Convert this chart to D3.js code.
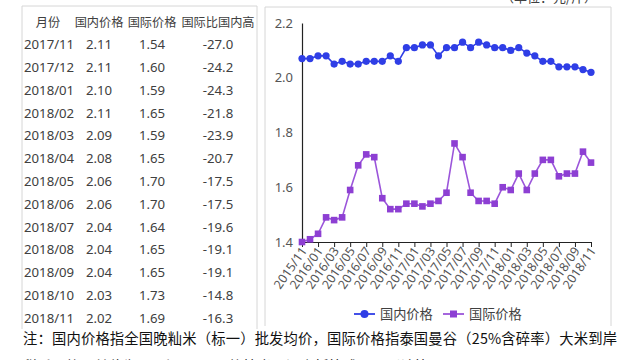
<!DOCTYPE html>
<html><head><meta charset="utf-8">
<script src="https://cdn.jsdelivr.net/npm/d3@7"></script>
<style>
html,body{margin:0;padding:0;background:#fff;}
svg{display:block;font-family:"Noto Sans CJK SC","Noto Sans",sans-serif;}
</style></head>
<body>
<svg id="c" width="640" height="360"></svg>
<script>
// ---- data ----
const months = ["2015/11","2015/12","2016/01","2016/02","2016/03","2016/04","2016/05","2016/06","2016/07","2016/08","2016/09","2016/10","2016/11","2016/12","2017/01","2017/02","2017/03","2017/04","2017/05","2017/06","2017/07","2017/08","2017/09","2017/10","2017/11","2017/12","2018/01","2018/02","2018/03","2018/04","2018/05","2018/06","2018/07","2018/08","2018/09","2018/10","2018/11"];
const domestic = [2.07,2.07,2.08,2.08,2.05,2.06,2.05,2.05,2.06,2.06,2.06,2.08,2.06,2.11,2.11,2.12,2.12,2.08,2.11,2.11,2.13,2.11,2.13,2.12,2.11,2.11,2.10,2.11,2.09,2.08,2.06,2.06,2.04,2.04,2.04,2.03,2.02];
const international = [1.40,1.41,1.43,1.49,1.48,1.49,1.59,1.68,1.72,1.71,1.56,1.52,1.52,1.54,1.54,1.53,1.54,1.55,1.58,1.76,1.71,1.58,1.55,1.55,1.54,1.60,1.59,1.65,1.59,1.65,1.70,1.70,1.64,1.65,1.65,1.73,1.69];
const xTickLabels = ["2015/11","2016/01","2016/03","2016/05","2016/07","2016/09","2016/11","2017/01","2017/03","2017/05","2017/07","2017/09","2017/11","2018/01","2018/03","2018/05","2018/07","2018/09","2018/11"];
const yTicks = [1.4,1.6,1.8,2.0,2.2];
const seriesNames = ["国内价格","国际价格"];

const tableHeader = ["月份","国内价格","国际价格","国际比国内高"];
const tableMonths = ["2017/11","2017/12","2018/01","2018/02","2018/03","2018/04","2018/05","2018/06","2018/07","2018/08","2018/09","2018/10","2018/11"];
const tableDomestic = ["2.11","2.11","2.10","2.11","2.09","2.08","2.06","2.06","2.04","2.04","2.04","2.03","2.02"];
const tableIntl = ["1.54","1.60","1.59","1.65","1.59","1.65","1.70","1.70","1.64","1.65","1.65","1.73","1.69"];
const tableDiff = ["-27.0","-24.2","-24.3","-21.8","-23.9","-20.7","-17.5","-17.5","-19.6","-19.1","-19.1","-14.8","-16.3"];

const noteLine1 = "注：国内价格指全国晚籼米（标一）批发均价，国际价格指泰国曼谷（25%含碎率）大米到岸";
const noteLine2 = "税后价格，单位为元/斤，国际价格按当月汇率折算成人民币计算。";
const unitText = "（单位：元/斤）";

// ---- drawing ----
const svg = d3.select("#c");
const blue = "#2f3ee6", purple = "#9b55da", purpleM = "#8d3fd3";
const txt = "#404040";

// frames
svg.append("path").attr("d","M22,329V6H257V329").attr("fill","none").attr("stroke","#d6d6d6");
svg.append("path").attr("d","M265,326V7H611V326").attr("fill","none").attr("stroke","#d6d6d6");

svg.append("text").attr("x",597).attr("y",2).attr("text-anchor","end")
  .attr("font-size",13).attr("fill",txt).text(unitText);

// table
const colX = [24, 99, 152, 218];
const hdr = svg.append("g").attr("font-size",12.2).attr("fill",txt);
tableHeader.forEach((h,i)=>{
  hdr.append("text").attr("x", i===0?48:colX[i]).attr("y",26.5)
    .attr("text-anchor","middle").text(h);
});
const rowY = d3.scaleLinear().domain([0,12]).range([44.5,318]);
const tb = svg.append("g").attr("font-size",13.2).attr("fill",txt).attr("font-family","'Noto Sans','Open Sans',sans-serif");
tableMonths.forEach((m,i)=>{
  const y = rowY(i)+4.7;
  tb.append("text").attr("x",colX[0]).attr("y",y).text(m);
  tb.append("text").attr("x",colX[1]).attr("y",y).attr("text-anchor","middle").text(tableDomestic[i]);
  tb.append("text").attr("x",colX[2]).attr("y",y).attr("text-anchor","middle").text(tableIntl[i]);
  tb.append("text").attr("x",colX[3]).attr("y",y).attr("text-anchor","middle").text(tableDiff[i]);
});

// chart scales
const x = d3.scalePoint().domain(months).range([302,591]);
const y = d3.scaleLinear().domain([1.4,2.2]).range([242,23]);

// y axis
const gy = svg.append("g").attr("transform","translate(302,0)")
  .call(d3.axisLeft(y).tickValues(yTicks).tickFormat(d3.format(".1f")).tickSize(0).tickPadding(9));
gy.select(".domain").attr("stroke","#222").attr("stroke-width",1.2);
gy.selectAll("text").attr("font-size",13).attr("fill","#555").attr("font-family","'Noto Sans',sans-serif");

// x axis
const gx = svg.append("g").attr("transform","translate(0,242)")
  .call(d3.axisBottom(x).tickValues(xTickLabels).tickSize(5).tickSizeOuter(0));
gx.select(".domain").attr("stroke","#222").attr("stroke-width",1.2);
gx.selectAll(".tick line").attr("stroke","#222");
gx.selectAll("text").attr("font-size",12.5).attr("fill","#555").attr("font-family","'Noto Sans',sans-serif")
  .attr("text-anchor","end").attr("dy",0).attr("y",0)
  .attr("transform","translate(5,9) rotate(-55)");

// lines
const line = (vals)=>d3.line().x((d,i)=>x(months[i])).y(d=>y(d))(vals);
svg.append("path").attr("d",line(international)).attr("fill","none").attr("stroke",purple).attr("stroke-width",1.6);
svg.append("path").attr("d",line(domestic)).attr("fill","none").attr("stroke",blue).attr("stroke-width",1.6);

svg.append("g").selectAll("rect").data(international).join("rect")
  .attr("x",(d,i)=>x(months[i])-3.3).attr("y",d=>y(d)-3.3)
  .attr("width",6.6).attr("height",6.6).attr("fill",purpleM);
svg.append("g").selectAll("circle").data(domestic).join("circle")
  .attr("cx",(d,i)=>x(months[i])).attr("cy",d=>y(d)).attr("r",3.6).attr("fill",blue);

// legend
const lg = svg.append("g");
const legendItems = [{name:seriesNames[0],c:blue,x0:354,shape:"c"},{name:seriesNames[1],c:purple,x0:443,shape:"s"}];
legendItems.forEach(it=>{
  lg.append("line").attr("x1",it.x0).attr("x2",it.x0+21).attr("y1",314).attr("y2",314)
    .attr("stroke",it.c).attr("stroke-width",1.8);
  if(it.shape==="c") lg.append("circle").attr("cx",it.x0+10.5).attr("cy",314).attr("r",4).attr("fill",it.c);
  else lg.append("rect").attr("x",it.x0+7).attr("y",310.5).attr("width",7).attr("height",7).attr("fill",purpleM);
  lg.append("text").attr("x",it.x0+26).attr("y",319).attr("font-size",13.2).attr("fill",txt).text(it.name);
});

// notes
svg.append("text").attr("x",23).attr("y",344).attr("font-size",14.3).attr("fill","#111")
  .attr("textLength",594).attr("lengthAdjust","spacing").text(noteLine1);
svg.append("text").attr("x",23).attr("y",372).attr("font-size",14.3).attr("fill","#111").text(noteLine2);
</script>
</body></html>
